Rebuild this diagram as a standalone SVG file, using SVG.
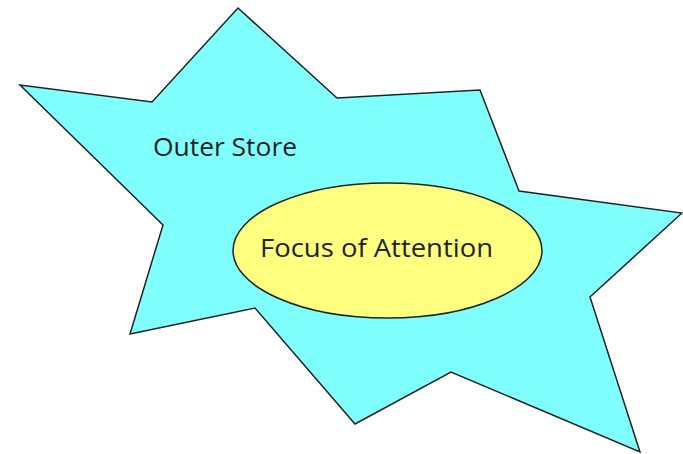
<svg xmlns="http://www.w3.org/2000/svg" width="683" height="454" viewBox="0 0 683 454">
<style>
.shape{stroke:#222;stroke-width:1.5;stroke-linejoin:miter}
.lbl{font-family:"Open Sans","DejaVu Sans",sans-serif;font-size:26px;fill:#222}
</style>
<rect width="683" height="454" fill="#fff"/>
<g id="outer-store">
<polygon class="shape" fill="#80FFFF" points="238,8 337,98 480,90 519,191 682,213 590,297 640,452 451,372 355,424 255,308 130,334 163,225 20,85 152,102"/>
<text class="lbl" x="153" y="156" textLength="144" lengthAdjust="spacingAndGlyphs">Outer Store</text>
</g>
<g id="focus-of-attention">
<ellipse class="shape" fill="#FFFF80" cx="387.5" cy="250.5" rx="154.5" ry="67.5"/>
<text class="lbl" x="260" y="257" textLength="233" lengthAdjust="spacingAndGlyphs">Focus of Attention</text>
</g>
<g id="connectors"></g>
</svg>
